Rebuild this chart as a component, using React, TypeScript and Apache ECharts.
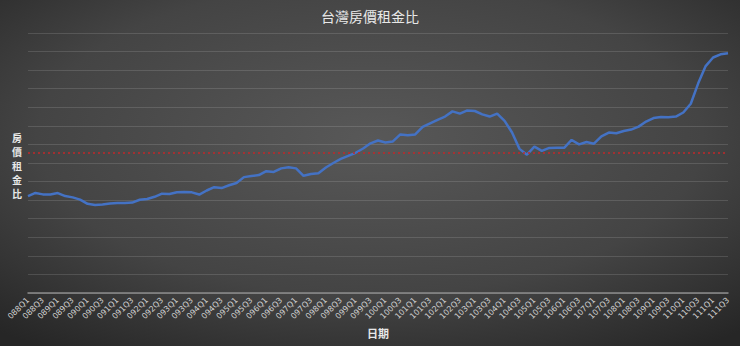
import React, { useEffect, useRef } from "react";
import * as echarts from "echarts";

const categories = [
  "088Q1","088Q2","088Q3","088Q4","089Q1","089Q2","089Q3","089Q4",
  "090Q1","090Q2","090Q3","090Q4","091Q1","091Q2","091Q3","091Q4",
  "092Q1","092Q2","092Q3","092Q4","093Q1","093Q2","093Q3","093Q4",
  "094Q1","094Q2","094Q3","094Q4","095Q1","095Q2","095Q3","095Q4",
  "096Q1","096Q2","096Q3","096Q4","097Q1","097Q2","097Q3","097Q4",
  "098Q1","098Q2","098Q3","098Q4","099Q1","099Q2","099Q3","099Q4",
  "100Q1","100Q2","100Q3","100Q4","101Q1","101Q2","101Q3","101Q4",
  "102Q1","102Q2","102Q3","102Q4","103Q1","103Q2","103Q3","103Q4",
  "104Q1","104Q2","104Q3","104Q4","105Q1","105Q2","105Q3","105Q4",
  "106Q1","106Q2","106Q3","106Q4","107Q1","107Q2","107Q3","107Q4",
  "108Q1","108Q2","108Q3","108Q4","109Q1","109Q2","109Q3","109Q4",
  "110Q1","110Q2","110Q3","110Q4","111Q1","111Q2","111Q3",
];

const priceRentRatio = [
  52.2, 53.9, 53.1, 53.0, 53.8, 52.2, 51.5, 50.3, 48.0, 47.4,
  47.7, 48.2, 48.5, 48.4, 48.7, 50.2, 50.6, 51.8, 53.5, 53.3,
  54.2, 54.4, 54.2, 53.0, 55.2, 57.0, 56.5, 58.0, 59.2, 62.4,
  63.0, 63.5, 65.6, 65.2, 67.1, 67.7, 67.1, 63.1, 64.1, 64.5,
  67.6, 70.0, 72.2, 73.8, 75.5, 77.8, 80.6, 82.1, 81.0, 81.6,
  85.4, 85.0, 85.4, 89.4, 91.3, 93.2, 95.0, 97.8, 96.6, 98.3,
  98.0, 96.2, 95.0, 96.6, 92.7, 86.4, 77.6, 74.5, 78.8, 76.5,
  78.1, 78.2, 78.2, 82.4, 80.0, 81.3, 80.4, 84.3, 86.4, 86.0,
  87.2, 88.0, 89.6, 92.3, 94.2, 94.8, 94.7, 95.0, 97.2, 101.9,
  112.9, 122.2, 126.8, 128.5, 129.1,
];

const referenceLevel = 75.4;

const yAxisTitleChars = ["房", "價", "租", "金", "比"];

const yMin = 0;
const yMax = 140;
const yInterval = 10;

export default function App() {
  const ref = useRef<HTMLDivElement>(null);

  useEffect(() => {
    document.body.style.margin = "0";
    if (!ref.current) return;
    const chart = echarts.init(ref.current, null, { renderer: "svg" });
    chart.setOption({
      animation: false,
      backgroundColor: new echarts.graphic.RadialGradient(0.5, 0.4, 0.75, [
        { offset: 0, color: "#585858" },
        { offset: 0.6, color: "#444444" },
        { offset: 1, color: "#262626" },
      ]),
      title: {
        text: "台灣房價租金比",
        left: "center",
        top: 4,
        textStyle: {
          color: "#e8e8e8",
          fontSize: 14,
          fontWeight: "normal",
          fontFamily: "Noto Sans CJK TC",
        },
      },
      graphic: yAxisTitleChars.map((ch, i) => ({
        type: "text",
        x: 17,
        y: 137 + i * 14,
        style: {
          text: ch,
          fill: "#e8e8e8",
          font: "bold 10px 'Noto Sans CJK TC'",
          align: "center",
          verticalAlign: "middle",
        },
      })),
      grid: { left: 28, right: 12, top: 33, bottom: 53 },
      xAxis: {
        type: "category",
        data: categories,
        boundaryGap: false,
        name: "日期",
        nameLocation: "middle",
        nameGap: 31,
        nameTextStyle: {
          color: "#e8e8e8",
          fontSize: 11,
          fontWeight: "bold",
          fontFamily: "Noto Sans CJK TC",
        },
        axisLine: { lineStyle: { color: "#8c8c8c", width: 1.5 } },
        axisTick: { show: false },
        axisLabel: {
          interval: 1,
          rotate: 45,
          fontSize: 8,
          color: "#d0d0d0",
          margin: 6,
          fontFamily: "DejaVu Sans",
        },
      },
      yAxis: {
        type: "value",
        min: yMin,
        max: yMax,
        interval: yInterval,
        axisLine: { show: false },
        axisTick: { show: false },
        axisLabel: { show: false },
        splitLine: { lineStyle: { color: "rgba(255,255,255,0.13)", width: 1 } },
      },
      series: [
        {
          type: "line",
          data: priceRentRatio,
          showSymbol: false,
          lineStyle: { color: "#4472C4", width: 2.5 },
          itemStyle: { color: "#4472C4" },
          markLine: {
            silent: true,
            symbol: "none",
            label: { show: false },
            lineStyle: { color: "#c0282a", type: [2, 3], width: 1.5 },
            data: [{ yAxis: referenceLevel }],
          },
        },
      ],
    });
    return () => chart.dispose();
  }, []);

  return <div ref={ref} style={{ width: 740, height: 346 }} />;
}
